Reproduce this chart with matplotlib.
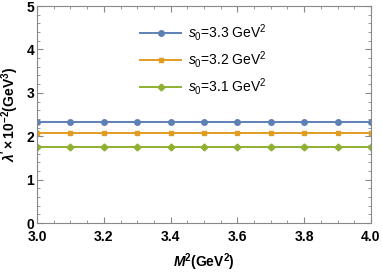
import numpy as np
import matplotlib
matplotlib.use('Agg')
from matplotlib import pyplot as plt
from matplotlib.ticker import MultipleLocator

plt.rcParams['font.family'] = ['Liberation Sans', 'DejaVu Sans']
plt.rcParams['mathtext.fontset'] = 'custom'
plt.rcParams['mathtext.rm'] = 'Liberation Sans'
plt.rcParams['mathtext.it'] = 'Liberation Sans:italic'
plt.rcParams['mathtext.bf'] = 'Liberation Sans:bold'
plt.rcParams['mathtext.bfit'] = 'Liberation Sans:bold:italic'

# data
M2 = [3.0, 3.1, 3.2, 3.3, 3.4, 3.5, 3.6, 3.7, 3.8, 3.9, 4.0]
lam_s33 = [2.32, 2.32, 2.32, 2.32, 2.32, 2.32, 2.32, 2.32, 2.32, 2.32, 2.32]
lam_s32 = [2.07, 2.07, 2.07, 2.07, 2.07, 2.07, 2.07, 2.07, 2.07, 2.07, 2.07]
lam_s31 = [1.75, 1.75, 1.75, 1.75, 1.75, 1.75, 1.75, 1.75, 1.75, 1.75, 1.75]
labels = [r'$s_0$=3.3 GeV$^2$', r'$s_0$=3.2 GeV$^2$', r'$s_0$=3.1 GeV$^2$']

blue = '#5e81b5'
orange = '#e19c24'
green = '#8fb032'

fig = plt.figure(figsize=(3.82, 2.73), dpi=100)
ax = fig.add_axes([0.097, 0.183, 0.874, 0.795])

ax.plot(M2, lam_s33, color=blue, lw=1.4, marker='o', ms=4, label=labels[0])
ax.plot(M2, lam_s32, color=orange, lw=1.4, marker='s', ms=3, label=labels[1])
ax.plot(M2, lam_s31, color=green, lw=1.4, marker='D', ms=3.5, label=labels[2])

ax.set_xlim(3.0, 4.0)
ax.set_ylim(0, 5)
ax.xaxis.set_major_locator(MultipleLocator(0.2))
ax.xaxis.set_minor_locator(MultipleLocator(0.05))
ax.yaxis.set_major_locator(MultipleLocator(1))
ax.yaxis.set_minor_locator(MultipleLocator(0.2))
ax.xaxis.set_major_formatter(matplotlib.ticker.FormatStrFormatter('%.1f'))

ax.tick_params(which='both', direction='in', top=True, right=True, color='#888888')
ax.tick_params(which='major', length=4, width=0.8, labelsize=10, pad=2)
ax.tick_params(axis='x', which='major', pad=5)
ax.tick_params(which='minor', length=2.5, width=0.6)
for lab in ax.get_xticklabels() + ax.get_yticklabels():
    lab.set_fontweight('bold')
for sp in ax.spines.values():
    sp.set_color('#888888')
    sp.set_linewidth(0.8)

ax.set_xlabel(r'$\mathbfit{M}^{\mathbf{2}}\mathbf{(GeV^{2})}$', fontsize=10, labelpad=5)
ax.set_ylabel(r"$\mathbfit{\lambda}\mathbf{'\times 10^{-2}(GeV^{3})}$", fontsize=10, labelpad=4)

ax.legend(loc='upper left', bbox_to_anchor=(0.27, 0.985), frameon=False, fontsize=10,
          handlelength=3.0, labelspacing=0.45, handletextpad=0.45)

plt.savefig('out.png', dpi=100)
